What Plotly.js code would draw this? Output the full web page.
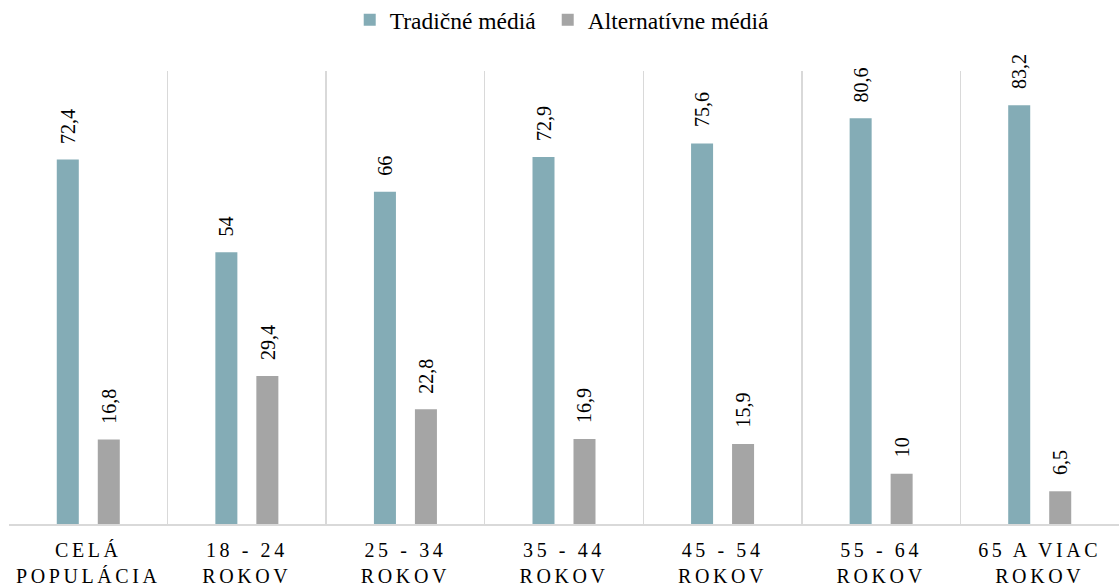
<!DOCTYPE html>
<html>
<head>
<meta charset="utf-8">
<script src="https://cdn.plot.ly/plotly-3.0.1.min.js"></script>
<style>
html,body{margin:0;padding:0;background:#fff;}
#chart{width:1120px;height:588px;}
.xtick text{letter-spacing:3.6px;}
</style>
</head>
<body>
<div id="chart"></div>
<script>
const categories = ["CELÁ<br>POPULÁCIA","18 - 24<br>ROKOV","25 - 34<br>ROKOV","35 - 44<br>ROKOV","45 - 54<br>ROKOV","55 - 64<br>ROKOV","65 A VIAC<br>ROKOV"];
const traditional = [72.4, 54, 66, 72.9, 75.6, 80.6, 83.2];
const alternative = [16.8, 29.4, 22.8, 16.9, 15.9, 10, 6.5];
const seriesNames = ["Tradičné médiá", "Alternatívne médiá"];
const colors = ["#84acb6", "#a5a5a5"];

const FONT = "Liberation Serif";

const traces = [
  {type:"bar", name:seriesNames[0], x:categories, y:traditional, marker:{color:colors[0]}, hoverinfo:"none", legendwidth:153},
  {type:"bar", name:seriesNames[1], x:categories, y:alternative, marker:{color:colors[1]}, hoverinfo:"none", legendwidth:190}
];

const fmt = v => String(v).replace(".", ",");
const annotations = [];
[traditional, alternative].forEach((vals, s) => {
  vals.forEach((v, i) => {
    annotations.push({
      x: categories[i], y: v, xref:"x", yref:"y",
      text: fmt(v), showarrow:false, textangle:-90,
      xshift: s === 0 ? -20.5 : 20.5, yshift: 14, yanchor:"bottom", xanchor:"center",
      font:{family:FONT, size:20, color:"#000"}
    });
  });
});

const layout = {
  width:1120, height:588,
  margin:{l:9, r:1, t:71, b:64, autoexpand:false},
  paper_bgcolor:"#fff", plot_bgcolor:"#fff",
  barmode:"group", bargap:0.483, bargroupgap:0.463,
  font:{family:FONT, size:20, color:"#000"},
  showlegend:true,
  legend:{orientation:"h", x:0.502, xanchor:"center", y:1.1126, yanchor:"middle",
          font:{family:FONT, size:23.5, color:"#000"}, traceorder:"normal"},
  xaxis:{type:"category", tickson:"boundaries", showgrid:true, gridcolor:"#d9d9d9", gridwidth:1.5,
         showline:true, linecolor:"#d9d9d9", linewidth:1.5, ticks:"", zeroline:false, automargin:false,
         tickfont:{family:FONT, size:20, color:"#000"}, ticklabelstandoff:7, range:[-0.5, 6.5]},
  yaxis:{range:[0,90], showgrid:false, showticklabels:false, zeroline:false, showline:false, ticks:"", automargin:false},
  annotations: annotations
};

Plotly.newPlot("chart", traces, layout, {displayModeBar:false, staticPlot:true});
</script>
</body>
</html>
